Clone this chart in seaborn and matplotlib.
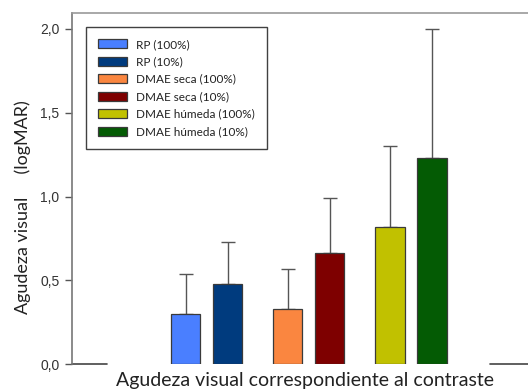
import matplotlib
matplotlib.use("Agg")
import matplotlib.pyplot as plt
import seaborn as sns
import pandas as pd
import numpy as np

# ---- data ----
series = ["RP (100%)", "RP (10%)", "DMAE seca (100%)", "DMAE seca (10%)",
          "DMAE húmeda (100%)", "DMAE húmeda (10%)"]
grupo = [0, 0, 1, 1, 2, 2]
contraste = [0, 1, 0, 1, 0, 1]
medias = [0.30, 0.48, 0.33, 0.66, 0.82, 1.23]
desviaciones = [0.24, 0.25, 0.24, 0.33, 0.48, 0.77]
colores = ["#4A7FFF", "#003B7E", "#FA8640", "#7E0000", "#C1C100", "#045B04"]
yticks = [0.0, 0.5, 1.0, 1.5, 2.0]
ytick_labels = ["0,0", "0,5", "1,0", "1,5", "2,0"]

GROUP_STEP = 2.43
pos = [g * GROUP_STEP + c for g, c in zip(grupo, contraste)]
df = pd.DataFrame({"serie": series, "media": medias, "sd": desviaciones, "pos": pos})

sns.set_style("white")
fig = plt.figure(figsize=(5.28, 3.90), dpi=100)
ax = fig.add_axes([72 / 528, 26 / 390, 456 / 528, 351 / 390])

# error bars (upper only)
ax.errorbar(df["pos"], df["media"], yerr=[np.zeros(len(df)), df["sd"]],
            fmt="none", ecolor="#555555", elinewidth=1.0, capsize=5, capthick=1.0, zorder=1)

sns.barplot(data=df, x="pos", y="media", hue="serie", hue_order=series,
            palette=colores, saturation=1, native_scale=True, dodge=False, width=0.71,
            edgecolor="#3a3a3a", linewidth=0.9, errorbar=None, ax=ax, zorder=2)

for p in ax.patches:
    p.set_zorder(2)

x0 = -113.5 / 42
x1 = x0 + 456 / 42
ax.set_xlim(x0, x1)
ax.set_ylim(0, 351 / 167.5)

ax.set_yticks(yticks)
ax.set_yticklabels(ytick_labels, fontfamily="Liberation Sans", fontsize=10, color="#333333")
ax.set_xticks([])
ax.tick_params(axis="y", which="both", direction="out", length=5, width=1,
               color="#555555", left=True, pad=4)
ax.set_xlabel("")
ax.set_ylabel("Agudeza visual     (logMAR)", fontfamily="Lato", fontsize=13,
              color="#222222")
ax.yaxis.set_label_coords(-41 / 456, (364 - 207.5) / 351)

for s in ["right", "bottom"]:
    ax.spines[s].set_visible(False)
ax.spines["top"].set_color("#999999")
ax.spines["top"].set_linewidth(1.2)
ax.spines["left"].set_color("#777777")
ax.spines["left"].set_linewidth(1.2)

# broken baseline segments
ax.plot([0, 35 / 456], [0, 0], transform=ax.transAxes, color="#444444", lw=1.2, clip_on=False)
ax.plot([418 / 456, 1], [0, 0], transform=ax.transAxes, color="#444444", lw=1.2, clip_on=False)

fig.text(0.578, 1 / 390, "Agudeza visual correspondiente al contraste",
         fontfamily="Lato", fontsize=14, color="#222222", ha="center", va="bottom")

leg = ax.legend(loc="upper left", bbox_to_anchor=(14 / 456, (364 - 27) / 351),
                borderaxespad=0, frameon=True, fancybox=False, shadow=False,
                prop={"family": "Lato", "size": 8.5}, handlelength=2.5,
                handleheight=0.8, handletextpad=0.75, labelspacing=0.55,
                borderpad=1.0, title=None)
leg.get_frame().set_edgecolor("#111111")
leg.get_frame().set_linewidth(1.0)
for t in leg.get_texts():
    t.set_color("#222222")
for h in leg.legend_handles:
    h.set_edgecolor("#3a3a3a")
    h.set_linewidth(0.9)

fig.savefig("out.png", dpi=100)
